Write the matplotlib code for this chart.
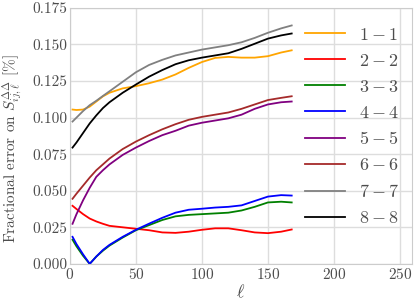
import matplotlib
matplotlib.use("Agg")
import matplotlib.pyplot as plt

plt.rcParams['font.family'] = 'serif'
plt.rcParams['font.serif'] = ['cmr10']
plt.rcParams['mathtext.fontset'] = 'cm'
plt.rcParams['axes.formatter.use_mathtext'] = True

ell = [2, 5, 10, 15, 20, 25, 30, 40, 50, 60, 70, 80, 90, 100, 110, 120, 130, 140, 150, 160, 168]

err_11 = [0.1055, 0.1052, 0.1055, 0.1075, 0.111, 0.1145, 0.117, 0.120, 0.1215, 0.1235, 0.126, 0.1295,
          0.134, 0.138, 0.1408, 0.1415, 0.141, 0.141, 0.142, 0.1445, 0.146]
err_22 = [0.0397, 0.0375, 0.034, 0.031, 0.029, 0.0274, 0.026, 0.025, 0.024, 0.023, 0.0215, 0.0212,
          0.022, 0.0233, 0.0243, 0.0243, 0.023, 0.0215, 0.021, 0.022, 0.0235]
err_33 = [0.0165, 0.012, 0.0055, 0.0, 0.005, 0.009, 0.0125, 0.018, 0.023, 0.0265, 0.030, 0.0325,
          0.0335, 0.034, 0.0345, 0.035, 0.0365, 0.039, 0.042, 0.0425, 0.042]
err_44 = [0.0185, 0.0135, 0.0065, 0.0, 0.005, 0.0095, 0.013, 0.0185, 0.0233, 0.0275, 0.0315, 0.035,
          0.037, 0.0377, 0.0385, 0.039, 0.040, 0.043, 0.046, 0.047, 0.0467]
err_55 = [0.0274, 0.034, 0.0435, 0.052, 0.0595, 0.064, 0.068, 0.0745, 0.0795, 0.084, 0.088, 0.091,
          0.0945, 0.0965, 0.098, 0.0995, 0.102, 0.106, 0.109, 0.1105, 0.111]
err_66 = [0.0445, 0.048, 0.0535, 0.059, 0.064, 0.068, 0.072, 0.0785, 0.0836, 0.088, 0.092, 0.0955,
          0.0985, 0.1005, 0.102, 0.1035, 0.106, 0.109, 0.112, 0.1135, 0.1146]
err_77 = [0.0973, 0.100, 0.1045, 0.1085, 0.1115, 0.1148, 0.118, 0.1245, 0.131, 0.136, 0.1395, 0.1425,
          0.1445, 0.1465, 0.148, 0.1495, 0.1515, 0.1545, 0.158, 0.161, 0.163]
err_88 = [0.0795, 0.083, 0.0895, 0.096, 0.1015, 0.1065, 0.1105, 0.117, 0.1226, 0.128, 0.1325, 0.1365,
          0.1392, 0.141, 0.1425, 0.144, 0.147, 0.1505, 0.154, 0.1562, 0.1575]

series = [err_11, err_22, err_33, err_44, err_55, err_66, err_77, err_88]
labels = ['$1-1$', '$2-2$', '$3-3$', '$4-4$', '$5-5$', '$6-6$', '$7-7$', '$8-8$']
colors = ['orange', 'red', 'green', 'blue', 'purple', 'brown', 'gray', 'black']

fig = plt.figure(figsize=(4.16, 3.04), dpi=100)
ax = fig.add_axes([0.168, 0.132, 0.822, 0.842])

for s, lab, c in zip(series, labels, colors):
    ax.plot(ell, s, color=c, label=lab, lw=1.3)

ax.set_xlim(0, 259)
ax.set_ylim(0, 0.175)
ax.set_xticks([0, 50, 100, 150, 200, 250])
ax.set_yticks([0, 0.025, 0.05, 0.075, 0.1, 0.125, 0.15, 0.175])
ax.set_yticklabels(['0.000', '0.025', '0.050', '0.075', '0.100', '0.125', '0.150', '0.175'])
ax.grid(True, color='#dddddd', lw=1)
ax.set_axisbelow(True)
for sp in ax.spines.values():
    sp.set_color('#cccccc')
ax.tick_params(length=0, labelsize=11, labelcolor='0.3', pad=2)

ax.set_xlabel(r'$\ell$', fontsize=13, color='0.3', labelpad=1)
ax.set_ylabel(r'Fractional error on $S^{\Delta\Delta}_{ij,\ell}$ $[\%]$', fontsize=11, color='0.3')
ax.yaxis.set_label_coords(-0.135, 0.45)

leg = ax.legend(loc='upper left', bbox_to_anchor=(0.64, 0.99), frameon=False, fontsize=13,
                handlelength=2.2, handletextpad=0.8, labelspacing=0.55)
for t in leg.get_texts():
    t.set_color('0.3')

plt.savefig('out.png', dpi=100)
